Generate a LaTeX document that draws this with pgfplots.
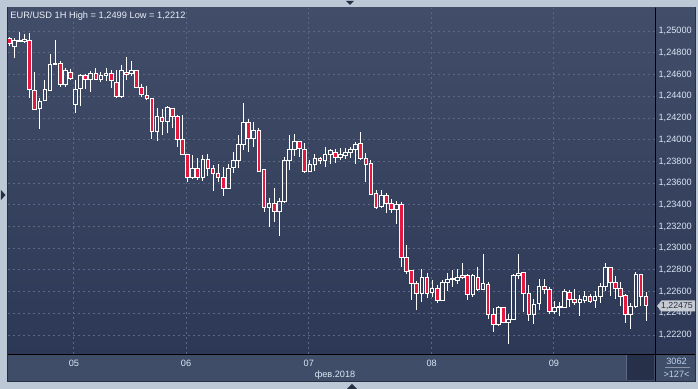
\documentclass[border=0pt]{standalone}
\usepackage{fontspec}
\setmainfont{Liberation Sans}
\usepackage{pgfplots}
\usepackage{pgfplotstable}
\pgfplotsset{compat=1.18}
\definecolor{outerbg}{HTML}{BDC8D7}
\definecolor{framecol}{HTML}{252E42}
\definecolor{bgtop}{HTML}{424E69}
\definecolor{bgbot}{HTML}{2C3855}
\definecolor{botpanel}{HTML}{404D68}
\definecolor{darkbox}{HTML}{263049}
\definecolor{gridcol}{HTML}{5B6784}
\definecolor{candlered}{HTML}{E3193F}
\definecolor{ticklab}{HTML}{DCE6F5}
\definecolor{titlecol}{HTML}{E8EEF7}
\definecolor{pricebox}{HTML}{C6CAD2}
\definecolor{pricetext}{HTML}{2A3040}
\definecolor{infotext}{HTML}{BCD2EE}

\pgfplotstableread{
i O H L C
0 1.24934 1.24948 1.24865 1.24883
1 1.24862 1.24941 1.24757 1.24911
2 1.24906 1.24989 1.24901 1.24915
3 1.24904 1.24978 1.24892 1.24923
4 1.24917 1.24986 1.24383 1.24459
5 1.24456 1.24628 1.24279 1.24281
6 1.24290 1.24383 1.24097 1.24351
7 1.24364 1.24551 1.24362 1.24459
8 1.24456 1.24788 1.24454 1.24696
9 1.24694 1.24920 1.24685 1.24699
10 1.24705 1.24726 1.24489 1.24512
11 1.24512 1.24659 1.24489 1.24634
12 1.24622 1.24650 1.24551 1.24567
13 1.24327 1.24551 1.24250 1.24465
14 1.24475 1.24604 1.24312 1.24588
15 1.24588 1.24604 1.24465 1.24551
16 1.24551 1.24634 1.24443 1.24613
17 1.24613 1.24665 1.24551 1.24558
18 1.24558 1.24628 1.24536 1.24597
19 1.24597 1.24659 1.24542 1.24613
20 1.24613 1.24643 1.24475 1.24542
21 1.24526 1.24643 1.24388 1.24397
22 1.24397 1.24689 1.24388 1.24634
23 1.24622 1.24766 1.24551 1.24604
24 1.24613 1.24726 1.24591 1.24634
25 1.24634 1.24643 1.24475 1.24484
26 1.24484 1.24512 1.24397 1.24419
27 1.24410 1.24496 1.24367 1.24383
28 1.24383 1.24388 1.24005 1.24075
29 1.24075 1.24296 1.23992 1.24210
30 1.24207 1.24284 1.24044 1.24173
31 1.24167 1.24312 1.24060 1.24296
32 1.24290 1.24296 1.24112 1.24219
33 1.24219 1.24229 1.23936 1.24005
34 1.24005 1.24229 1.23860 1.23866
35 1.23866 1.23869 1.23614 1.23651
36 1.23651 1.23860 1.23645 1.23737
37 1.23737 1.23829 1.23629 1.23651
38 1.23651 1.23860 1.23620 1.23820
39 1.23820 1.23866 1.23669 1.23737
40 1.23737 1.23768 1.23528 1.23691
41 1.23691 1.23777 1.23608 1.23654
42 1.23654 1.23752 1.23485 1.23553
43 1.23553 1.23777 1.23544 1.23737
44 1.23743 1.23885 1.23691 1.23805
45 1.23805 1.24044 1.23737 1.23952
46 1.23952 1.24336 1.23906 1.24161
47 1.24161 1.24192 1.23890 1.24014
48 1.24014 1.24161 1.23936 1.24081
49 1.24081 1.24106 1.23700 1.23712
50 1.23722 1.23726 1.23332 1.23374
51 1.23374 1.23461 1.23199 1.23415
52 1.23415 1.23559 1.23245 1.23337
53 1.23337 1.23466 1.23116 1.23429
54 1.23429 1.23844 1.23427 1.23805
55 1.23805 1.24044 1.23722 1.23906
56 1.23906 1.24051 1.23851 1.23982
57 1.23982 1.23989 1.23844 1.23922
58 1.23912 1.23968 1.23697 1.23706
59 1.23712 1.23814 1.23708 1.23774
60 1.23774 1.23866 1.23712 1.23829
61 1.23829 1.23844 1.23774 1.23805
62 1.23805 1.23931 1.23752 1.23866
63 1.23860 1.23915 1.23774 1.23897
64 1.23885 1.23912 1.23783 1.23839
65 1.23839 1.23922 1.23814 1.23860
66 1.23853 1.23927 1.23823 1.23885
67 1.23885 1.23934 1.23835 1.23915
68 1.23915 1.23982 1.23774 1.23961
69 1.23968 1.24069 1.23814 1.23829
70 1.23829 1.23876 1.23614 1.23774
71 1.23783 1.23814 1.23496 1.23498
72 1.23507 1.23537 1.23362 1.23374
73 1.23383 1.23537 1.23369 1.23482
74 1.23491 1.23507 1.23323 1.23415
75 1.23415 1.23454 1.23323 1.23359
76 1.23359 1.23436 1.23221 1.23408
77 1.23408 1.23429 1.22830 1.22917
78 1.22917 1.23030 1.22760 1.22784
79 1.22793 1.22800 1.22523 1.22677
80 1.22677 1.22701 1.22431 1.22585
81 1.22585 1.22809 1.22508 1.22733
82 1.22733 1.22770 1.22545 1.22585
83 1.22591 1.22708 1.22554 1.22631
84 1.22631 1.22662 1.22499 1.22523
85 1.22523 1.22708 1.22519 1.22687
86 1.22687 1.22775 1.22606 1.22714
87 1.22712 1.22800 1.22646 1.22717
88 1.22701 1.22806 1.22671 1.22733
89 1.22745 1.22867 1.22723 1.22729
90 1.22745 1.22763 1.22523 1.22570
91 1.22570 1.22763 1.22548 1.22745
92 1.22733 1.22830 1.22609 1.22622
93 1.22622 1.22947 1.22620 1.22671
94 1.22668 1.22692 1.22346 1.22392
95 1.22392 1.22447 1.22231 1.22293
96 1.22293 1.22468 1.22284 1.22456
97 1.22456 1.22462 1.22314 1.22318
98 1.22318 1.22392 1.22120 1.22348
99 1.22346 1.22760 1.22339 1.22745
100 1.22745 1.22947 1.22714 1.22763
101 1.22775 1.22784 1.22416 1.22585
102 1.22585 1.22662 1.22330 1.22394
103 1.22392 1.22530 1.22299 1.22484
104 1.22493 1.22714 1.22431 1.22652
105 1.22646 1.22714 1.22579 1.22622
106 1.22622 1.22646 1.22394 1.22416
107 1.22416 1.22514 1.22394 1.22456
108 1.22454 1.22508 1.22376 1.22459
109 1.22456 1.22622 1.22447 1.22600
110 1.22594 1.22616 1.22456 1.22530
111 1.22530 1.22622 1.22477 1.22499
112 1.22499 1.22570 1.22376 1.22530
113 1.22523 1.22606 1.22499 1.22554
114 1.22554 1.22579 1.22499 1.22514
115 1.22517 1.22606 1.22447 1.22554
116 1.22554 1.22683 1.22499 1.22646
117 1.22652 1.22867 1.22609 1.22825
118 1.22825 1.22830 1.22560 1.22683
119 1.22687 1.22745 1.22530 1.22631
120 1.22631 1.22692 1.22468 1.22560
121 1.22567 1.22579 1.22309 1.22392
122 1.22392 1.22493 1.22253 1.22468
123 1.22462 1.22784 1.22456 1.22754
124 1.22754 1.22763 1.22468 1.22560
125 1.22560 1.22600 1.22333 1.22475
}\data

\begin{document}
\begin{tikzpicture}
% ---------- panels (1 unit = 1 px of the reference, y upward) ----------
\begin{scope}[x=0.5bp,y=0.5bp]
\useasboundingbox (0,0) rectangle (698,389);
\fill[outerbg] (0,0) rectangle (698,389);
\fill[framecol] (7,7) rectangle (696,382);
\shade[top color=bgtop,bottom color=bgbot] (8,35) rectangle (655,381);
\shade[top color=bgtop,bottom color=bgbot] (656,35) rectangle (695,381);
\fill[botpanel] (8,8) rectangle (695,34);
\fill[darkbox] (627,9) rectangle (654,34);
\draw[gridcol,line width=0.5bp] (626.5,9) -- (626.5,34);
% small arrows on the frame
\fill[framecol] (346,388) -- (354,388) -- (350,384) -- cycle;
\fill[framecol] (1,199) -- (1,189) -- (5.5,194) -- cycle;
\fill[framecol] (347,0) -- (357,0) -- (352,5) -- cycle;
\end{scope}

% ---------- axis with grid, ticks and wicks ----------
\begin{axis}[
  at={(4bp,17.5bp)}, anchor=south west,
  scale only axis, width=323.5bp, height=173bp,
  xmin=-0.255, xmax=126.76, ymin=1.220257, ymax=1.252148,
  axis line style={draw=none},
  major tick length=0pt,
  xtick={12.7,34.7,58.8,82.9,106.9},
  xticklabels={05,06,07,08,09},
  ytick={1.222,1.224,1.226,1.228,1.230,1.232,1.234,1.236,1.238,1.240,1.242,1.244,1.246,1.248,1.250},
  yticklabels={{1,22200},{1,22400},{1,22600},{1,22800},{1,23000},{1,23200},{1,23400},{1,23600},{1,23800},{1,24000},{1,24200},{1,24400},{1,24600},{1,24800},{1,25000}},
  scaled y ticks=false,
  yticklabel pos=right,
  grid=major,
  major grid style={gridcol, line width=0.5bp, dash pattern=on 1bp off 1.5bp},
  tick label style={font=\fontsize{4.6}{5.5}\selectfont, text=ticklab},
  yticklabel style={anchor=west, inner sep=0pt, xshift=1.6bp},
  xticklabel style={anchor=center, inner sep=0pt, yshift=-4.5bp},
]
\addplot[draw=none, mark=none, error bars/.cd, y dir=plus, y explicit, error mark=none,
  error bar style={draw=white, line width=0.5bp, solid}]
  table[x=i, y expr={max(\thisrow{O},\thisrow{C})}, y error plus expr={\thisrow{H}-max(\thisrow{O},\thisrow{C})}] {\data};
\addplot[draw=none, mark=none, error bars/.cd, y dir=minus, y explicit, error mark=none,
  error bar style={draw=white, line width=0.5bp, solid}]
  table[x=i, y expr={min(\thisrow{O},\thisrow{C})}, y error minus expr={min(\thisrow{O},\thisrow{C})-\thisrow{L}}] {\data};
\end{axis}

% ---------- candle bodies ----------
\begin{axis}[
  at={(4bp,17.5bp)}, anchor=south west,
  scale only axis, width=323.5bp, height=173bp,
  xmin=-0.255, xmax=126.76, ymin=1.220257, ymax=1.252148,
  hide axis, ybar stacked, bar width=0.72,
]
\addplot[draw=none, fill=none] table[x=i, y expr={min(\thisrow{O},\thisrow{C})}] {\data};
\addplot[draw=white, fill=candlered, line width=0.5bp] table[x=i, y expr={max(\thisrow{O}-\thisrow{C},0)}] {\data};
\addplot[draw=white, fill=none, line width=0.5bp] table[x=i, y expr={max(\thisrow{C}-\thisrow{O},0)}] {\data};
\end{axis}

% ---------- separators and texts ----------
\begin{scope}[x=0.5bp,y=0.5bp]
\draw[black,line width=0.5bp] (655.5,8) -- (655.5,381);
\draw[black,line width=0.5bp] (8,34.5) -- (695,34.5);
\node[anchor=base west, inner sep=0pt, text=titlecol, font=\fontsize{4.65}{5.5}\selectfont] at (10,370.8) {EUR/USD 1H High = 1,2499 Low = 1,2212};
\node[anchor=base, inner sep=0pt, text=ticklab, font=\fontsize{4.6}{5.5}\selectfont] at (335,11.8) {фев.2018};
\node[inner sep=0pt, text=infotext, font=\fontsize{4.6}{5.5}\selectfont] at (676.5,27.3) {3062};
\draw[gridcol!70!white, line width=0.5bp] (665,21) -- (690,21);
\node[inner sep=0pt, text=infotext, font=\fontsize{4.6}{5.5}\selectfont] at (676.5,15) {>127<};
\fill[pricebox] (657,83) -- (661.5,88.5) -- (695,88.5) -- (695,77.5) -- (661.5,77.5) -- cycle;
\node[inner sep=0pt, text=pricetext, font=\fontsize{4.4}{5.3}\selectfont] at (677,83) {1,22475};
\end{scope}
\end{tikzpicture}
\end{document}
